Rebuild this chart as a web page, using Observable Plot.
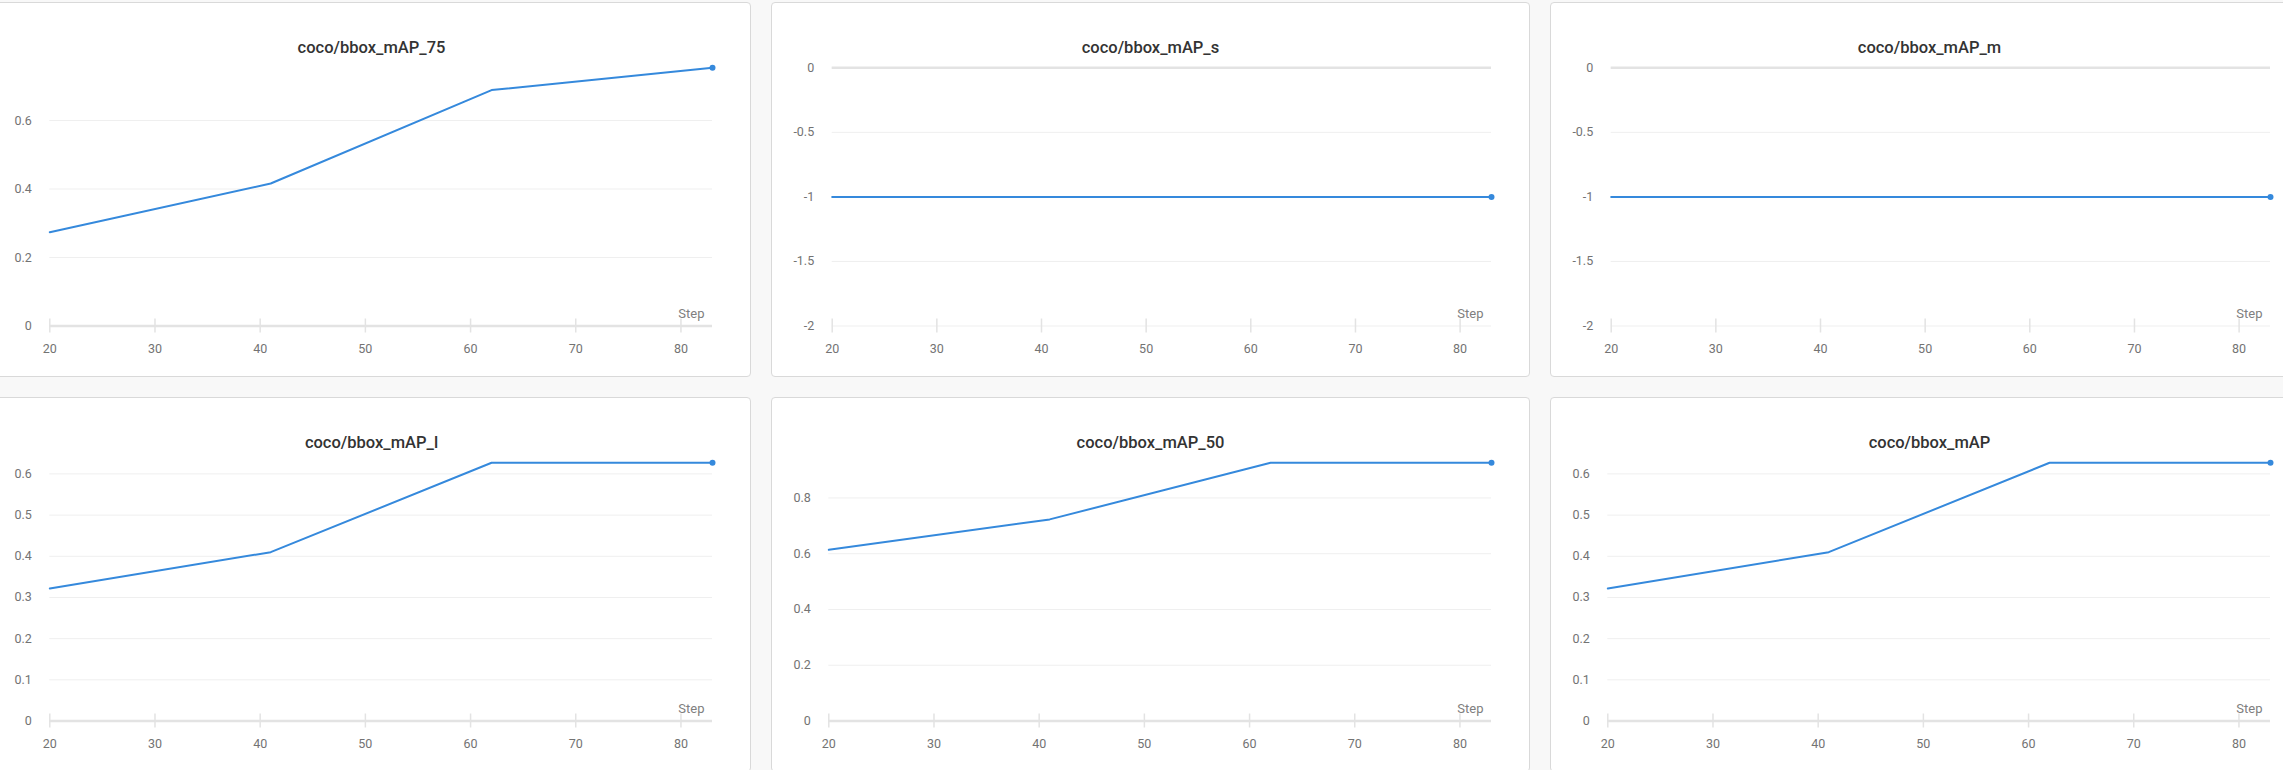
<!DOCTYPE html>
<html>
<head>
<meta charset="utf-8">
<script src="https://cdn.jsdelivr.net/npm/d3@7"></script>
<script src="https://cdn.jsdelivr.net/npm/@observablehq/plot@0.6"></script>
<style>
  html, body { margin: 0; padding: 0; }
  body { width: 2283px; height: 770px; overflow: hidden; background: #f8f8f8; position: relative; font-family: Roboto, sans-serif; }
  .card { position: absolute; box-sizing: border-box; width: 759px; height: 375px; background: #fff; border: 1px solid #d9d9d9; border-radius: 4px; overflow: hidden; }
  .title { height: 20px; line-height: 20px; padding-top: 35px; padding-bottom: 1px; text-align: center; font-family: Roboto, sans-serif; font-size: 16.5px; font-weight: 500; color: #333; white-space: nowrap; }
  .card svg { display: block; }
</style>
</head>
<body>
<script>
// ---- data ----
const steps = [20, 41, 62, 83];
const titles = ["coco/bbox_mAP_75", "coco/bbox_mAP_s", "coco/bbox_mAP_m", "coco/bbox_mAP_l", "coco/bbox_mAP_50", "coco/bbox_mAP"];
const mAP75 = [0.274, 0.416, 0.689, 0.754];
const mAPs  = [-1, -1, -1, -1];
const mAPm  = [-1, -1, -1, -1];
const mAPl  = [0.322, 0.410, 0.627, 0.627];
const mAP50 = [0.614, 0.723, 0.926, 0.926];
const mAP   = [0.322, 0.410, 0.627, 0.627];
const xTicks = [20, 30, 40, 50, 60, 70, 80];
const yTicks75 = [0, 0.2, 0.4, 0.6];
const yTicksNeg = [0, -0.5, -1, -1.5, -2];
const yDomainNeg = [-2, 0];
const yTicksL = [0, 0.1, 0.2, 0.3, 0.4, 0.5, 0.6];
const yTicks50 = [0, 0.2, 0.4, 0.6, 0.8];
const xLabel = "Step";

const seriesList = [mAP75, mAPs, mAPm, mAPl, mAP50, mAP];
const tickList = [yTicks75, yTicksNeg, yTicksNeg, yTicksL, yTicks50, yTicksL];
const domainList = [null, yDomainNeg, yDomainNeg, null, null, null];

// ---- layout ----
const cardLefts = [-8, 771, 1550];
const cardTops = [2, 397];
const lineColor = "#3589dc";
const gridColor = "#efefef";
const zeroColor = "#e3e3e3";
const labelColor = "#737373";

seriesList.forEach((values, i) => {
  const col = i % 3, row = Math.floor(i / 3);
  const card = document.createElement("div");
  card.className = "card";
  card.style.left = cardLefts[col] + "px";
  card.style.top = cardTops[row] + "px";
  const t = document.createElement("div");
  t.className = "title";
  t.textContent = titles[i];
  card.appendChild(t);

  const data = steps.map((s, k) => ({step: s, value: values[k]}));
  const yDomain = domainList[i] || [0, d3.max(values)];
  const hasNeg = yDomain[0] < 0;
  const last = data[data.length - 1];

  const chart = Plot.plot({
    width: 757,
    height: 317,
    marginTop: 8.3,
    marginBottom: 50.5,
    marginLeft: hasNeg ? 59.7 : 56.3,
    marginRight: 38,
    style: {fontFamily: "Roboto, sans-serif", fontSize: "12.5px", color: labelColor, background: "transparent", overflow: "visible"},
    x: {domain: [steps[0], steps[steps.length - 1]], ticks: xTicks, label: null},
    y: {domain: yDomain, ticks: tickList[i], label: null},
    marks: [
      Plot.gridY(tickList[i], {stroke: gridColor, strokeOpacity: 1, strokeWidth: 1}),
      Plot.ruleY([0], {stroke: zeroColor, strokeWidth: 2.5}),
      Plot.axisX(xTicks, {tickSize: 14, dy: -7, tickFormat: () => "", stroke: "#e3e3e3", strokeWidth: 1.5, label: null}),
      Plot.axisX(xTicks, {tickSize: 0, tickPadding: 18, tickFormat: d => String(d), fill: labelColor, fontSize: 12.5, label: null}),
      Plot.axisY(tickList[i], {tickSize: 0, tickPadding: 18, tickFormat: d => String(d), fill: labelColor, fontSize: 12.5, label: null}),
      Plot.text([xLabel], {frameAnchor: "bottom-right", textAnchor: "end", lineAnchor: "middle", dx: -8, dy: -12, fontSize: 13, fill: "#808080"}),
      Plot.line(data, {x: "step", y: "value", stroke: lineColor, strokeWidth: 2}),
      Plot.dot([last], {x: "step", y: "value", r: 3, fill: lineColor, stroke: "none"})
    ]
  });
  card.appendChild(chart);
  document.body.appendChild(card);
});
</script>
</body>
</html>
